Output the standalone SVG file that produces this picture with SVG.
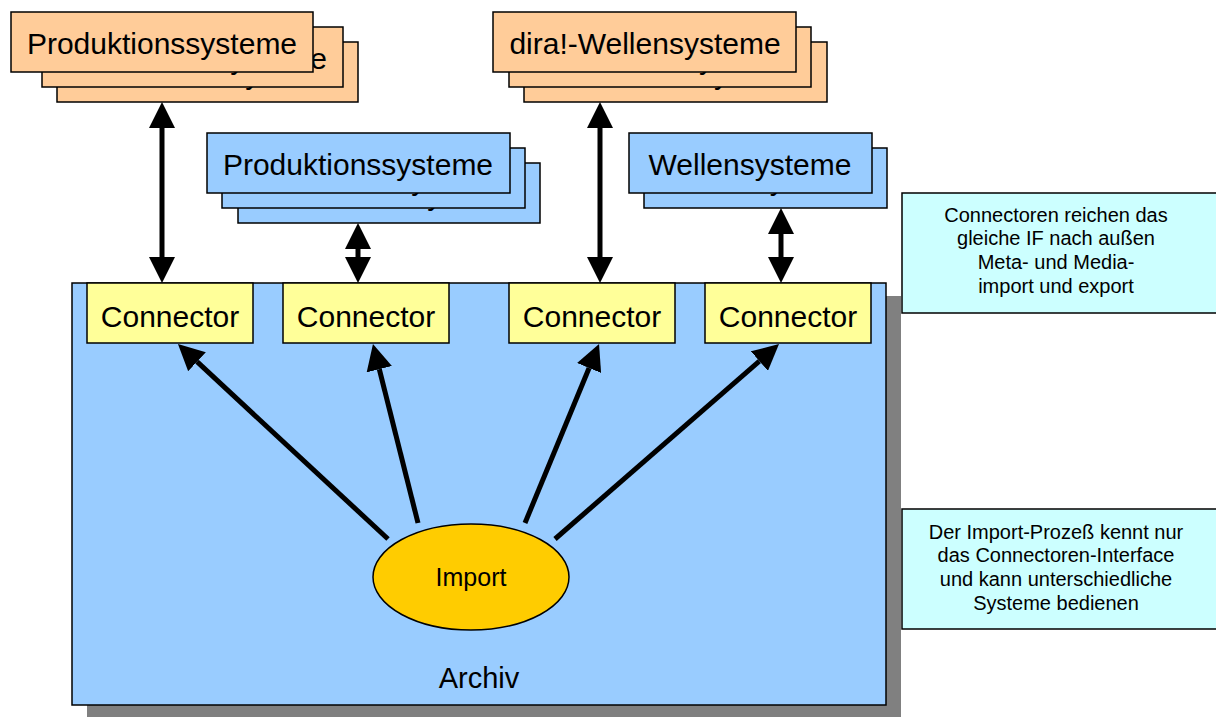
<svg xmlns="http://www.w3.org/2000/svg" width="1216" height="717" viewBox="0 0 1216 717">
  <style>
    text { font-family: "Liberation Sans", Arial, sans-serif; fill: #000; text-anchor: middle; }
    .big { font-size: 30px; }
    .small { font-size: 20px; }
    .box { stroke: #000; stroke-width: 1.5; }
    .orange { fill: #FFCC99; }
    .blue { fill: #99CCFF; }
    .conn { fill: #FFFF99; }
    .note { fill: #CCFFFF; }
    .shadow { fill: #808080; }
    .arrow { stroke: #000; stroke-width: 5; fill: none; marker-end: url(#head); }
    .dbl { marker-start: url(#head); }
  </style>
  <defs>
    <marker id="head" markerUnits="userSpaceOnUse" markerWidth="26" markerHeight="26" refX="0" refY="13" orient="auto-start-reverse" viewBox="0 0 26 26">
      <path d="M0,0 L26,13 L0,26 Z" fill="#000"/>
    </marker>
  </defs>

  <rect width="1216" height="717" fill="#fff"/>

  <!-- archive container -->
  <g id="archiv">
    <rect class="shadow" x="87" y="296" width="814" height="422"/>
    <rect class="box blue" x="72" y="283" width="814" height="422"/>
    <text x="479" y="688" style="font-size:29px">Archiv</text>
  </g>

  <!-- connectors inside the archive -->
  <g id="connector1">
    <rect class="box conn" x="87" y="283" width="166" height="60"/>
    <text class="big" x="170" y="327">Connector</text>
  </g>
  <g id="connector2">
    <rect class="box conn" x="283" y="283" width="166" height="60"/>
    <text class="big" x="366" y="327">Connector</text>
  </g>
  <g id="connector3">
    <rect class="box conn" x="509" y="283" width="166" height="60"/>
    <text class="big" x="592" y="327">Connector</text>
  </g>
  <g id="connector4">
    <rect class="box conn" x="705" y="283" width="166" height="60"/>
    <text class="big" x="788" y="327">Connector</text>
  </g>

  <!-- external system stacks -->
  <g id="produktion-orange">
    <rect class="box orange" x="57" y="42" width="301" height="60"/>
    <text class="big" x="207" y="84">Produktionssysteme</text>
    <rect class="box orange" x="42" y="27" width="301" height="60"/>
    <text class="big" x="192" y="69">Produktionssysteme</text>
    <rect class="box orange" x="11" y="12" width="302" height="60"/>
    <text class="big" x="162" y="54">Produktionssysteme</text>
  </g>
  <g id="dira-wellen">
    <rect class="box orange" x="524" y="42" width="303" height="60"/>
    <text class="big" x="675" y="84">dira!-Wellensysteme</text>
    <rect class="box orange" x="509" y="27" width="302" height="60"/>
    <text class="big" x="660" y="69">dira!-Wellensysteme</text>
    <rect class="box orange" x="493" y="12" width="303" height="60"/>
    <text class="big" x="645" y="54">dira!-Wellensysteme</text>
  </g>
  <g id="produktion-blue">
    <rect class="box blue" x="238" y="163" width="302" height="60"/>
    <text class="big" x="389" y="205">Produktionssysteme</text>
    <rect class="box blue" x="222" y="148" width="303" height="60"/>
    <text class="big" x="373" y="190">Produktionssysteme</text>
    <rect class="box blue" x="207" y="133" width="303" height="60"/>
    <text class="big" x="358" y="175">Produktionssysteme</text>
  </g>
  <g id="wellen">
    <rect class="box blue" x="644" y="148" width="243" height="60"/>
    <text class="big" x="765" y="190">Wellensysteme</text>
    <rect class="box blue" x="629" y="133" width="243" height="60"/>
    <text class="big" x="750" y="175">Wellensysteme</text>
  </g>

  <!-- connectors (arrows) -->
  <g id="edges">
    <line class="arrow dbl" x1="162" y1="128" x2="162" y2="257"/>
    <line class="arrow dbl" x1="358" y1="249" x2="358" y2="257"/>
    <line class="arrow dbl" x1="600" y1="128" x2="600" y2="257"/>
    <line class="arrow dbl" x1="781" y1="234" x2="781" y2="257"/>
    <line class="arrow" x1="388" y1="539" x2="197" y2="361.7"/>
    <line class="arrow" x1="418" y1="523" x2="379.3" y2="369.2"/>
    <line class="arrow" x1="525" y1="523" x2="589.1" y2="368"/>
    <line class="arrow" x1="555" y1="539" x2="759.4" y2="361.1"/>
  </g>

  <g id="import">
    <ellipse class="box" cx="471" cy="577" rx="98" ry="53" fill="#FFCC00"/>
    <text x="471" y="586" style="font-size:25px">Import</text>
  </g>

  <!-- side notes -->
  <g id="note-connectoren">
    <rect class="box note" x="902" y="193" width="320" height="120"/>
    <text class="small" x="1056" y="222">Connectoren reichen das</text>
    <text class="small" x="1056" y="245">gleiche IF nach außen</text>
    <text class="small" x="1056" y="269">Meta- und Media-</text>
    <text class="small" x="1056" y="293">import und export</text>
  </g>
  <g id="note-import">
    <rect class="box note" x="902" y="509" width="320" height="120"/>
    <text class="small" x="1056" y="539">Der Import-Prozeß kennt nur</text>
    <text class="small" x="1056" y="562">das Connectoren-Interface</text>
    <text class="small" x="1056" y="586">und kann unterschiedliche</text>
    <text class="small" x="1056" y="610">Systeme bedienen</text>
  </g>
</svg>
